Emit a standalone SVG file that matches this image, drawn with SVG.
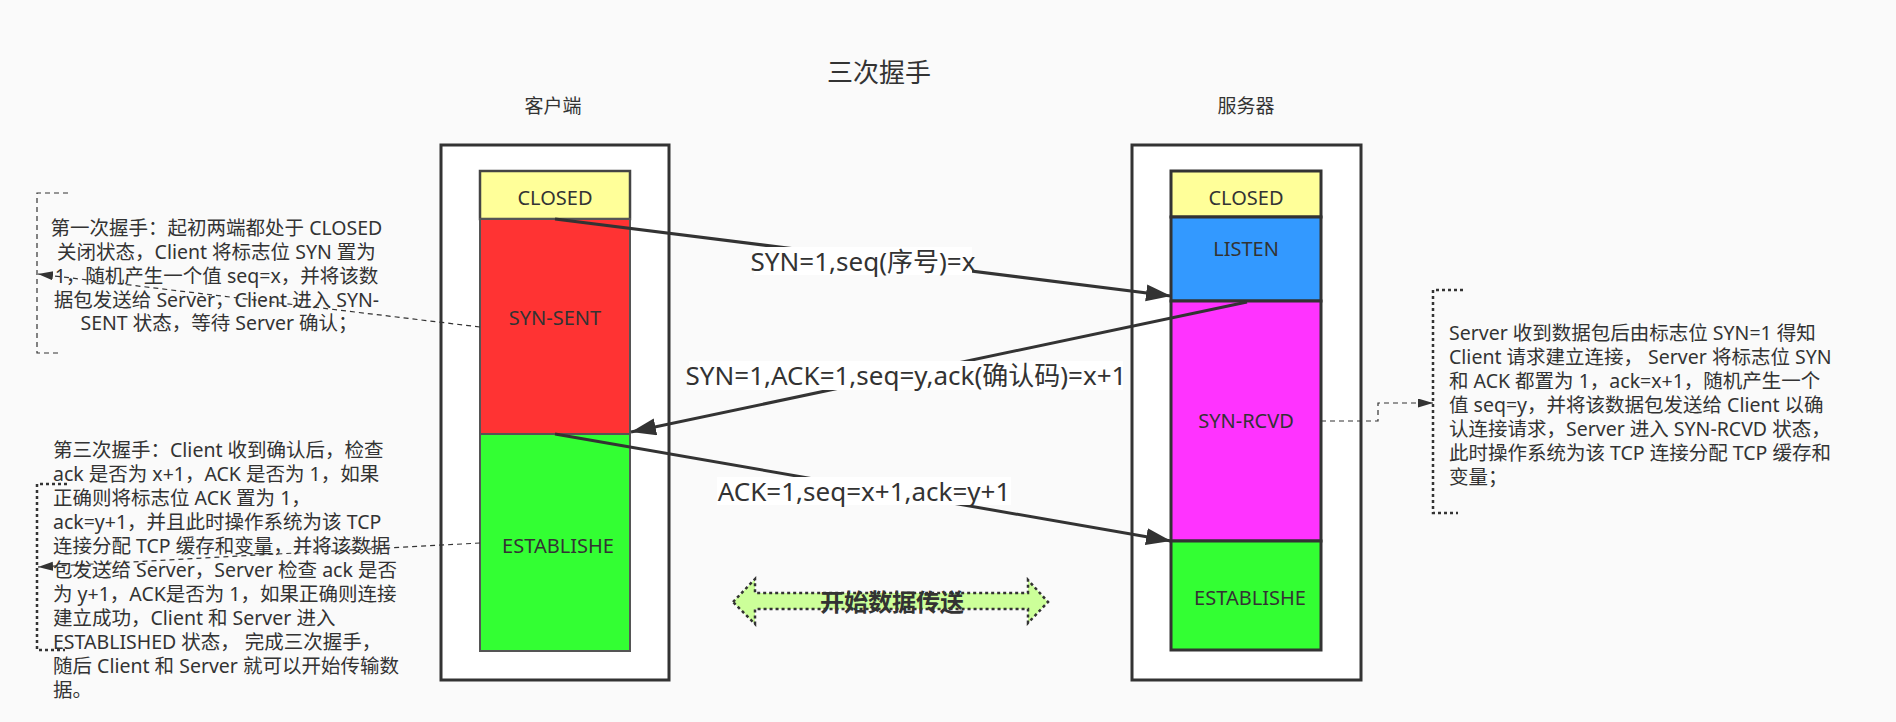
<svg xmlns="http://www.w3.org/2000/svg" width="1896" height="722" viewBox="0 0 1896 722">
<style>
text{font-family:"Noto Sans","Noto Sans CJK SC",sans-serif;fill:#333}
.st{font-size:20px;text-anchor:middle}
.lb{font-size:26px;text-anchor:middle}
.note{font-size:19.5px}
.outer{fill:#fff;stroke:#333;stroke-width:3}
.ci{stroke:#555;stroke-width:2}
.si{stroke:#333;stroke-width:3}
.arr{fill:none;stroke:#333;stroke-width:3}
.dash{fill:none;stroke:#333;stroke-width:1.2;stroke-dasharray:5 4}
.br1{fill:none;stroke:#333;stroke-width:1.2;stroke-dasharray:5 4}
.br2{fill:none;stroke:#333;stroke-width:2.5;stroke-dasharray:3 3}
.lbg{fill:#fff}
</style>
<defs>
<marker id="ah" markerUnits="userSpaceOnUse" markerWidth="26" markerHeight="18" refX="25" refY="8.5" orient="auto">
<path d="M0,0 L25,8.5 L0,17 z" fill="#333"/>
</marker>
<marker id="sh" markerUnits="userSpaceOnUse" markerWidth="16" markerHeight="10" refX="15" refY="4.5" orient="auto">
<path d="M0,0 L15,4.5 L0,9 z" fill="#333"/>
</marker>
</defs>
<rect x="0" y="0" width="1896" height="722" fill="#fafafa"/>

<g id="title"><text x="879" y="82" style="font-size:26px;text-anchor:middle">三次握手</text></g>
<g id="client-label"><text x="553" y="113" style="font-size:19px;text-anchor:middle">客户端</text></g>
<g id="server-label"><text x="1246" y="113" style="font-size:19px;text-anchor:middle">服务器</text></g>

<g id="client">
<rect class="outer" x="441" y="145" width="228" height="535"/>
<g id="c-closed"><rect class="ci" x="480" y="171" width="150" height="48" fill="#ffff99" style="stroke:#444;stroke-width:2.5"/><text class="st" x="555" y="205">CLOSED</text></g>
<g id="c-synsent"><rect class="ci" x="480" y="219" width="150" height="215" fill="#ff3333"/><text class="st" x="555" y="325">SYN-SENT</text></g>
<g id="c-established"><rect class="ci" x="480" y="434" width="150" height="217" fill="#33ff33"/><text class="st" x="558" y="553">ESTABLISHE</text></g>
</g>

<g id="server">
<rect class="outer" x="1132" y="145" width="229" height="535"/>
<g id="s-closed"><rect class="si" x="1171" y="171" width="150" height="46" fill="#ffff99"/><text class="st" x="1246" y="205">CLOSED</text></g>
<g id="s-listen"><rect class="si" x="1171" y="217" width="150" height="84" fill="#3399ff"/><text class="st" x="1246" y="256">LISTEN</text></g>
<g id="s-synrcvd"><rect class="si" x="1171" y="301" width="150" height="240" fill="#ff33ff"/><text class="st" x="1246" y="428">SYN-RCVD</text></g>
<g id="s-established"><rect class="si" x="1171" y="541" width="150" height="109" fill="#33ff33"/><text class="st" x="1250" y="605">ESTABLISHE</text></g>
</g>

<g id="connectors">
<line class="arr" x1="555" y1="219" x2="1171" y2="296" marker-end="url(#ah)"/>
<line class="arr" x1="1247" y1="302" x2="631" y2="432" marker-end="url(#ah)"/>
<line class="arr" x1="555" y1="434" x2="1171" y2="541" marker-end="url(#ah)"/>
<line class="dash" x1="480" y1="327" x2="38" y2="274" marker-end="url(#sh)"/>
<line class="dash" x1="480" y1="543" x2="38" y2="567" marker-end="url(#sh)"/>
<polyline class="dash" points="1321,421 1378,421 1378,403 1433,403" marker-end="url(#sh)"/>
</g>

<g id="label-syn">
<rect class="lbg" x="754" y="247" width="218" height="28"/>
<text class="lb" x="863" y="271">SYN=1,seq(序号)=x</text>
</g>
<g id="label-synack">
<rect class="lbg" x="689" y="361" width="434" height="29"/>
<text class="lb" x="906" y="385">SYN=1,ACK=1,seq=y,ack(确认码)=x+1</text>
</g>
<g id="label-ack">
<rect class="lbg" x="717" y="477" width="294" height="28"/>
<text class="lb" x="864" y="501">ACK=1,seq=x+1,ack=y+1</text>
</g>

<g id="note-1">
<polyline class="br1" points="68,193 37,193 37,353 62,353"/>
<text class="note" style="text-anchor:middle">
<tspan x="219" y="235">第一次握手：起初两端都处于 CLOSED</tspan>
<tspan x="219" y="259">关闭状态，Client 将标志位 SYN 置为</tspan>
<tspan x="219" y="283">1，随机产生一个值 seq=x，并将该数</tspan>
<tspan x="219" y="307">据包发送给 Server，Client 进入 SYN-</tspan>
<tspan x="219" y="330">SENT 状态，等待 Server 确认；</tspan>
</text>
</g>

<g id="note-3">
<polyline class="br2" points="67,484 37,484 37,650 65,650"/>
<text class="note">
<tspan x="53" y="457">第三次握手：Client 收到确认后，检查</tspan>
<tspan x="53" y="481">ack 是否为 x+1，ACK 是否为 1，如果</tspan>
<tspan x="53" y="505">正确则将标志位 ACK 置为 1，</tspan>
<tspan x="53" y="529">ack=y+1，并且此时操作系统为该 TCP</tspan>
<tspan x="53" y="553">连接分配 TCP 缓存和变量，并将该数据</tspan>
<tspan x="53" y="577">包发送给 Server，Server 检查 ack 是否</tspan>
<tspan x="53" y="601">为 y+1，ACK是否为 1，如果正确则连接</tspan>
<tspan x="53" y="625">建立成功，Client 和 Server 进入</tspan>
<tspan x="53" y="649">ESTABLISHED 状态， 完成三次握手，</tspan>
<tspan x="53" y="673">随后 Client 和 Server 就可以开始传输数</tspan>
<tspan x="53" y="697">据。</tspan>
</text>
</g>

<g id="note-2">
<polyline class="br2" points="1463,290 1433,290 1433,513 1458,513"/>
<text class="note">
<tspan x="1449" y="340">Server 收到数据包后由标志位 SYN=1 得知</tspan>
<tspan x="1449" y="364">Client 请求建立连接， Server 将标志位 SYN</tspan>
<tspan x="1449" y="388">和 ACK 都置为 1，ack=x+1，随机产生一个</tspan>
<tspan x="1449" y="412">值 seq=y，并将该数据包发送给 Client 以确</tspan>
<tspan x="1449" y="436">认连接请求，Server 进入 SYN-RCVD 状态，</tspan>
<tspan x="1449" y="460">此时操作系统为该 TCP 连接分配 TCP 缓存和</tspan>
<tspan x="1449" y="484">变量；</tspan>
</text>
</g>

<g id="data-transfer">
<polygon points="733,602 755,579 755,593 1028,593 1028,580 1048,602 1028,623 1028,609 755,609 755,624" fill="#ccff99" stroke="#333" stroke-width="2.5" stroke-dasharray="3 3"/>
<text x="892" y="611" style="font-size:24px;font-weight:bold;text-anchor:middle">开始数据传送</text>
</g>
</svg>
